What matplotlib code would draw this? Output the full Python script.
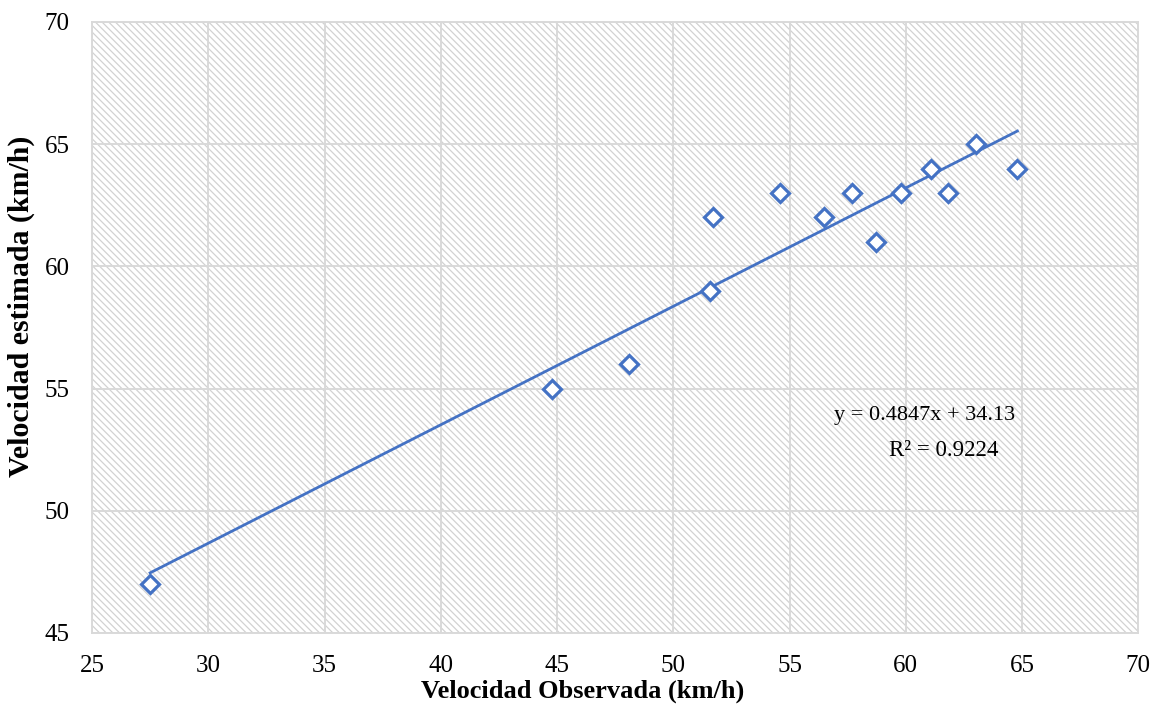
import matplotlib.pyplot as plt
import matplotlib.patches as patches
import numpy as np

plt.rcParams["font.family"] = ["Liberation Serif", "DejaVu Serif"]
plt.rcParams["hatch.color"] = "#d2d2d2"
plt.rcParams["hatch.linewidth"] = 0.9

# observed vs estimated speed (km/h)
vel_observada = [27.5, 44.8, 48.1, 51.7, 51.6, 54.6, 56.5, 57.7, 58.7, 59.8, 61.1, 61.8, 63.0, 64.8]
vel_estimada = [47, 55, 56, 62, 59, 63, 62, 63, 61, 63, 64, 63, 65, 64]
x_ticks = [25, 30, 35, 40, 45, 50, 55, 60, 65, 70]
y_ticks = [45, 50, 55, 60, 65, 70]
eq_text = "y = 0.4847x + 34.13"
r2_text = "R² = 0.9224"

blue = "#4472C4"

fig = plt.figure(figsize=(11.6, 7.08), dpi=100)
ax = fig.add_axes([0.0793, 0.106, 0.902, 0.863])

# hatched plot background
ax.add_patch(patches.Rectangle((0, 0), 1, 1, transform=ax.transAxes, facecolor="white",
                               edgecolor="#d2d2d2", hatch="\\" * 5, linewidth=0, zorder=0))

x = np.array(vel_observada)
y = np.array(vel_estimada)
m, b = np.polyfit(x, y, 1)
xl = np.array([x.min(), x.max()])
ax.plot(xl, m * xl + b, color=blue, linewidth=2.0, zorder=3)
ax.plot(x, y, linestyle="none", marker="D", markersize=9, markerfacecolor="white",
        markeredgecolor=blue, markeredgewidth=2.3, zorder=4)

ax.text(60.8, 53.9, eq_text, fontsize=16, ha="center", va="center", zorder=5)
ax.text(61.65, 52.45, r2_text, fontsize=16.5, ha="center", va="center", zorder=5)

ax.set_xlim(25, 70)
ax.set_ylim(45, 70)
ax.set_xticks(x_ticks)
ax.set_yticks(y_ticks)
ax.grid(True, color="#d9d9d9", linewidth=1.4, zorder=1)
ax.set_axisbelow(True)
ax.tick_params(length=0, labelsize=18)
ax.tick_params(axis="x", pad=16)
ax.tick_params(axis="y", pad=16)
for s in ax.spines.values():
    s.set_color("#d9d9d9")
    s.set_linewidth(1.4)

ax.set_xlabel("Velocidad Observada (km/h)", fontsize=19, fontweight="bold")
ax.set_ylabel("Velocidad estimada (km/h)", fontsize=21.5, fontweight="bold")
ax.xaxis.set_label_coords(0.469, -0.077)
ax.yaxis.set_label_coords(-0.054, 0.535)

fig.savefig("out.png", dpi=100)
